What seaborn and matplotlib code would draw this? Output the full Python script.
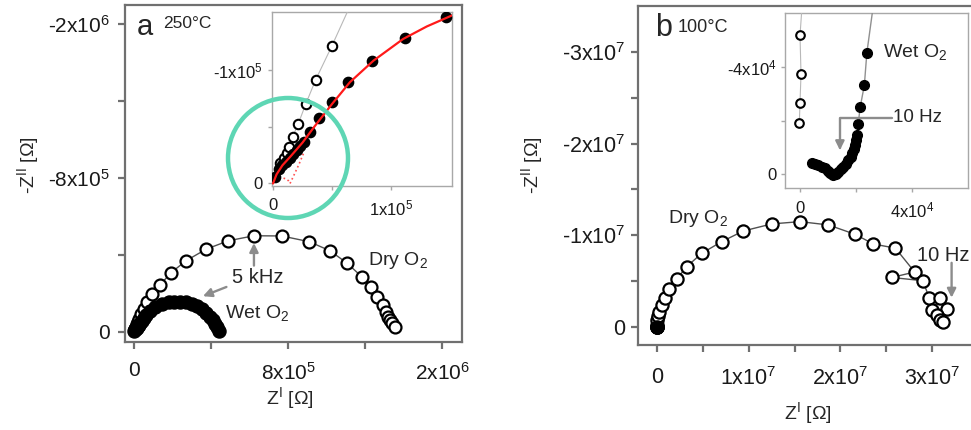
import matplotlib
matplotlib.use("Agg")
import matplotlib.pyplot as plt
import seaborn as sns
from matplotlib.patches import Ellipse

# ---------------- data (ohm); ZIM values are -Z'' ----------------
# Panel a, 250 C
A_DRY_ZRE = [0.06e5, 0.09e5, 0.115e5, 0.137e5, 0.165e5, 0.213e5, 0.277e5, 0.361e5, 0.496e5,
             0.66e5, 0.95e5, 1.35e5, 1.92e5, 2.70e5, 3.74e5, 4.90e5, 6.23e5, 7.67e5, 9.11e5,
             10.18e5, 11.08e5, 11.83e5, 12.30e5, 12.64e5, 12.92e5, 13.09e5, 13.21e5, 13.30e5,
             13.38e5, 13.56e5]
A_DRY_ZIM = [0.18e5, 0.22e5, 0.27e5, 0.32e5, 0.406e5, 0.523e5, 0.699e5, 0.912e5, 1.205e5,
             1.58e5, 1.96e5, 2.44e5, 3.08e5, 3.70e5, 4.30e5, 4.74e5, 5.00e5, 4.99e5, 4.69e5,
             4.22e5, 3.57e5, 2.87e5, 2.32e5, 1.83e5, 1.40e5, 1.05e5, 0.79e5, 0.62e5,
             0.47e5, 0.24e5]
A_WET_ZRE = [0.02e5, 0.05e5, 0.08e5, 0.11e5, 0.14e5, 0.17e5, 0.20e5, 0.23e5, 0.258e5, 0.314e5,
             0.389e5, 0.499e5, 0.636e5, 0.840e5, 1.112e5, 1.462e5, 1.80e5, 2.10e5, 2.40e5,
             2.70e5, 3.00e5, 3.28e5, 3.54e5, 3.76e5, 3.95e5, 4.10e5, 4.22e5, 4.33e5, 4.42e5]
A_WET_ZIM = [0.06e5, 0.13e5, 0.16e5, 0.19e5, 0.22e5, 0.26e5, 0.29e5, 0.33e5, 0.363e5, 0.456e5,
             0.576e5, 0.713e5, 0.895e5, 1.079e5, 1.278e5, 1.459e5, 1.54e5, 1.58e5, 1.58e5,
             1.54e5, 1.46e5, 1.33e5, 1.17e5, 0.98e5, 0.79e5, 0.60e5, 0.42e5, 0.24e5, 0.07e5]
A_FIT_ZRE = [0.0, 0.03e5, 0.08e5, 0.15e5, 0.25e5, 0.35e5, 0.50e5, 0.65e5, 0.85e5, 1.10e5, 1.30e5, 1.52e5]
A_FIT_ZIM = [0.0, 0.08e5, 0.16e5, 0.24e5, 0.36e5, 0.50e5, 0.70e5, 0.89e5, 1.08e5, 1.27e5, 1.38e5, 1.48e5]
A_ARC1_ZRE = [0.0, 0.02e5, 0.05e5, 0.08e5, 0.11e5, 0.13e5, 0.144e5]
A_ARC1_ZIM = [0.0, 0.035e5, 0.05e5, 0.05e5, 0.04e5, 0.025e5, 0.0]
A_ARC2_ZRE = [0.144e5, 0.18e5, 0.22e5, 0.26e5]
A_ARC2_ZIM = [0.0, 0.08e5, 0.17e5, 0.27e5]

A_TICKS = [0, 4e5, 8e5, 1.2e6, 1.6e6]
A_XTICKLABELS = ['0', '', '8x10$^5$', '', '2x10$^6$']
A_YTICKLABELS = ['0', '', '-8x10$^5$', '', '-2x10$^6$']
A_IN_TICKS = [0, 5e4, 1e5]
A_IN_XTICKLABELS = ['0', '', '1x10$^5$']
A_IN_YTICKLABELS = ['0', '', '-1x10$^5$']

# Panel b, 100 C
B_DRY_ZRE = [-2.5e2, 0.0, 3.6e2, 0.0, 1.0e4, 3.0e4, 1.0e5, 2.5e5, 5.1e5, 8.7e5, 1.34e6, 2.15e6,
             3.24e6, 4.88e6, 7.06e6, 9.41e6, 1.251e7, 1.56e7, 1.869e7, 2.16e7, 2.36e7, 2.60e7,
             2.81e7, 2.56e7, 2.90e7, 2.97e7, 3.09e7, 3.00e7, 3.16e7, 3.05e7, 3.09e7, 3.12e7]
B_DRY_ZIM = [1.90e4, 2.67e4, 3.73e4, 5.18e4, 2.0e5, 7.6e5, 1.2e6, 1.67e6, 2.40e6, 3.13e6, 4.11e6,
             5.24e6, 6.58e6, 8.04e6, 9.31e6, 1.047e7, 1.124e7, 1.149e7, 1.113e7, 1.011e7, 9.05e6,
             8.6e6, 6.0e6, 5.4e6, 5.05e6, 3.13e6, 3.13e6, 1.85e6, 1.93e6, 1.3e6, 7.6e5, 5.8e5]
B_WET_ZRE = [4.2e3, 5.2e3, 6.5e3, 7.8e3, 8.9e3, 1.0e4, 1.07e4, 1.13e4, 1.19e4, 1.27e4, 1.36e4,
             1.45e4, 1.54e4, 1.63e4, 1.72e4, 1.80e4, 1.86e4, 1.92e4, 1.96e4, 2.00e4, 2.03e4,
             2.07e4, 2.14e4, 2.29e4, 2.38e4, 2.65e4]
B_WET_ZIM = [4.1e3, 3.9e3, 3.5e3, 2.9e3, 2.2e3, 1.4e3, 6e2, 2e2, -3e2, 2e2, 1.0e3, 1.9e3, 2.8e3,
             4.0e3, 5.3e3, 6.6e3, 7.8e3, 9.3e3, 1.09e4, 1.27e4, 1.46e4, 1.86e4, 2.49e4, 3.32e4,
             4.53e4, 6.6e4]

B_TICKS = [0, 5e6, 1e7, 1.5e7, 2e7, 2.5e7, 3e7]
B_XTICKLABELS = ['0', '', '1x10$^7$', '', '2x10$^7$', '', '3x10$^7$']
B_YTICKLABELS = ['0', '', '-1x10$^7$', '', '-2x10$^7$', '', '-3x10$^7$']
B_IN_TICKS = [0, 2e4, 4e4]
B_IN_XTICKLABELS = ['0', '', '4x10$^4$']
B_IN_YTICKLABELS = ['0', '', '-4x10$^4$']

# ---------------- style ----------------
sns.set_theme(style="ticks")
plt.rcParams['font.family'] = ['Liberation Sans', 'DejaVu Sans']
plt.rcParams['mathtext.default'] = 'regular'

W, H = 971, 430
fig = plt.figure(figsize=(W / 100, H / 100), dpi=100)
fig.patch.set_facecolor('white')


def rect(l, t, r, b):
    return [l / W, 1 - b / H, (r - l) / W, (b - t) / H]


def style(ax, color, lw, ticklen, size, padx, pady):
    for s in ax.spines.values():
        s.set_visible(True)
        s.set_color(color)
        s.set_linewidth(lw)
    ax.tick_params(direction='out', length=ticklen, width=lw, color=color,
                   labelsize=size, labelcolor='#1a1a1a')
    ax.tick_params(axis='x', pad=padx)
    ax.tick_params(axis='y', pad=pady)
    ax.set_xlabel('')
    ax.set_ylabel('')


def open_pts(ax, x, y, ms, lc, lw, mew=1.6):
    sns.lineplot(x=x, y=y, ax=ax, sort=False, estimator=None, errorbar=None,
                 color=lc, linewidth=lw, marker='o', markersize=ms,
                 markerfacecolor='white', markeredgecolor='black',
                 markeredgewidth=mew, zorder=3)


def filled_pts(ax, x, y, ms, lc=None, lw=1.0):
    sns.lineplot(x=x, y=y, ax=ax, sort=False, estimator=None, errorbar=None,
                 color=lc if lc else 'black', linewidth=lw if lc else 0,
                 linestyle='-' if lc else 'none', marker='o', markersize=ms,
                 markerfacecolor='black', markeredgecolor='black',
                 markeredgewidth=1.0, zorder=3)


ARROW = dict(arrowstyle='-|>', color='#8c8c8c', lw=1.7, mutation_scale=13,
             shrinkA=0, shrinkB=0)
FRAME = '#707070'

# ---------------- panel a main ----------------
axa = fig.add_axes(rect(125, 5, 462, 342))
open_pts(axa, A_DRY_ZRE, A_DRY_ZIM, 8.6, '#505050', 1.0)
filled_pts(axa, A_WET_ZRE, A_WET_ZIM, 9.4)
axa.set_xlim(-4.7e4, 1.704e6)
axa.set_ylim(-5.2e4, 1.699e6)
axa.set_xticks(A_TICKS)
axa.set_xticklabels(A_XTICKLABELS)
axa.set_yticks(A_TICKS)
axa.set_yticklabels(A_YTICKLABELS)
style(axa, FRAME, 1.6, 5, 15, 9, 6)
axa.set_xlabel('Z$^{I}$ [\u03a9]', fontsize=14)
axa.set_ylabel('-Z$^{II}$ [\u03a9]', fontsize=14)
axa.xaxis.set_label_coords(0.49, -0.165)
axa.xaxis.label.set_va('center')
axa.yaxis.set_label_coords(-0.288, 0.525)
axa.yaxis.label.set_va('center')

axa.text(6.44e5, 2.81e5, '5 kHz', fontsize=14.5, ha='center', va='center')
axa.annotate('', xy=(6.23e5, 4.62e5), xytext=(6.23e5, 3.45e5), arrowprops=ARROW)
axa.annotate('', xy=(3.58e5, 1.86e5), xytext=(4.80e5, 2.34e5), arrowprops=ARROW)
axa.text(12.16e5, 3.74e5, 'Dry O$_2$', fontsize=14, ha='left', va='center')
axa.text(4.73e5, 0.99e5, 'Wet O$_2$', fontsize=14, ha='left', va='center')

# ---------------- panel a inset ----------------
axai = fig.add_axes(rect(272, 12, 452, 186))
axai.set_facecolor('white')
open_pts(axai, A_DRY_ZRE, A_DRY_ZIM, 6.8, '#b8b8b8', 0.8, 1.5)
filled_pts(axai, A_WET_ZRE, A_WET_ZIM, 7.4)
sns.lineplot(x=A_FIT_ZRE, y=A_FIT_ZIM, ax=axai, sort=False, estimator=None, errorbar=None,
             color='#ff1a1a', linewidth=1.6, zorder=5)
sns.lineplot(x=A_ARC1_ZRE, y=A_ARC1_ZIM, ax=axai, sort=False, estimator=None, errorbar=None,
             color='#ff5050', linewidth=1.2, linestyle=':', zorder=2)
sns.lineplot(x=A_ARC2_ZRE, y=A_ARC2_ZIM, ax=axai, sort=False, estimator=None, errorbar=None,
             color='#ff5050', linewidth=1.2, linestyle=':', zorder=2)
axai.set_xlim(-850, 1.513e5)
axai.set_ylim(-2200, 1.507e5)
axai.set_xticks(A_IN_TICKS)
axai.set_xticklabels(A_IN_XTICKLABELS)
axai.set_yticks(A_IN_TICKS)
axai.set_yticklabels(A_IN_YTICKLABELS)
style(axai, '#a8a8a8', 1.0, 3, 12, 6, 4)

# ---------------- panel b main ----------------
axb = fig.add_axes(rect(637.7, 6, 977, 345))
open_pts(axb, B_DRY_ZRE, B_DRY_ZIM, 8.8, '#505050', 1.0)
filled_pts(axb, B_WET_ZRE, B_WET_ZIM, 8.0)
axb.set_xlim(-2.105e6, 3.49e7)
axb.set_ylim(-1.96e6, 3.50e7)
axb.set_xticks(B_TICKS)
axb.set_xticklabels(B_XTICKLABELS)
axb.set_yticks(B_TICKS)
axb.set_yticklabels(B_YTICKLABELS)
style(axb, FRAME, 1.6, 5, 15.5, 11, 4)
axb.set_xlabel('Z$^{I}$ [\u03a9]', fontsize=14)
axb.set_ylabel('-Z$^{II}$ [\u03a9]', fontsize=14)
axb.xaxis.set_label_coords(0.502, -0.2)
axb.xaxis.label.set_va('center')
axb.yaxis.set_label_coords(-0.312, 0.531)
axb.yaxis.label.set_va('center')

axb.text(0.12e7, 1.178e7, 'Dry O$_2$', fontsize=14, ha='left', va='center')
axb.text(2.833e7, 0.785e7, '10 Hz', fontsize=14.5, ha='left', va='center')
axb.annotate('', xy=(3.213e7, 0.32e7), xytext=(3.213e7, 0.70e7), arrowprops=ARROW)

# ---------------- panel b inset ----------------
axbi = fig.add_axes(rect(785, 12.7, 968.3, 188.3))
axbi.set_facecolor('white')
open_pts(axbi, B_DRY_ZRE, B_DRY_ZIM, 6.2, '#b8b8b8', 0.8, 1.5)
filled_pts(axbi, B_WET_ZRE, B_WET_ZIM, 7.0, '#909090', 1.0)
axbi.set_xlim(-0.534e4, 5.99e4)
axbi.set_ylim(-0.521e4, 6.02e4)
axbi.set_xticks(B_IN_TICKS)
axbi.set_xticklabels(B_IN_XTICKLABELS)
axbi.set_yticks(B_IN_TICKS)
axbi.set_yticklabels(B_IN_YTICKLABELS)
style(axbi, '#a8a8a8', 1.0, 3, 12, 6, 3)
axbi.text(2.96e4, 4.57e4, 'Wet O$_2$', fontsize=14, ha='left', va='center')
axbi.text(3.32e4, 2.10e4, '10 Hz', fontsize=13.5, ha='left', va='center')
axbi.annotate('', xy=(1.42e4, 0.90e4), xytext=(3.28e4, 2.10e4),
              arrowprops=dict(ARROW, connectionstyle='angle,angleA=0,angleB=90,rad=0'))

# ---------------- panel letters ----------------
fig.text(136.7 / W, 1 - 35 / H, 'a', fontsize=21, va='baseline', ha='left')
fig.text(163 / W, 1 - 28.5 / H, '250\u00b0C', fontsize=12.5, va='baseline', ha='left')
fig.text(655 / W, 1 - 36 / H, 'b', fontsize=22, va='baseline', ha='left')
fig.text(678 / W, 1 - 31.7 / H, '100\u00b0C', fontsize=13, va='baseline', ha='left')

# highlight circle
fig.add_artist(Ellipse((288 / W, 1 - 158 / H), 120 / W, 120 / H, transform=fig.transFigure,
                       fill=False, edgecolor='#5ed6b4', linewidth=3.2, zorder=10))

fig.savefig('out.png', dpi=100)
